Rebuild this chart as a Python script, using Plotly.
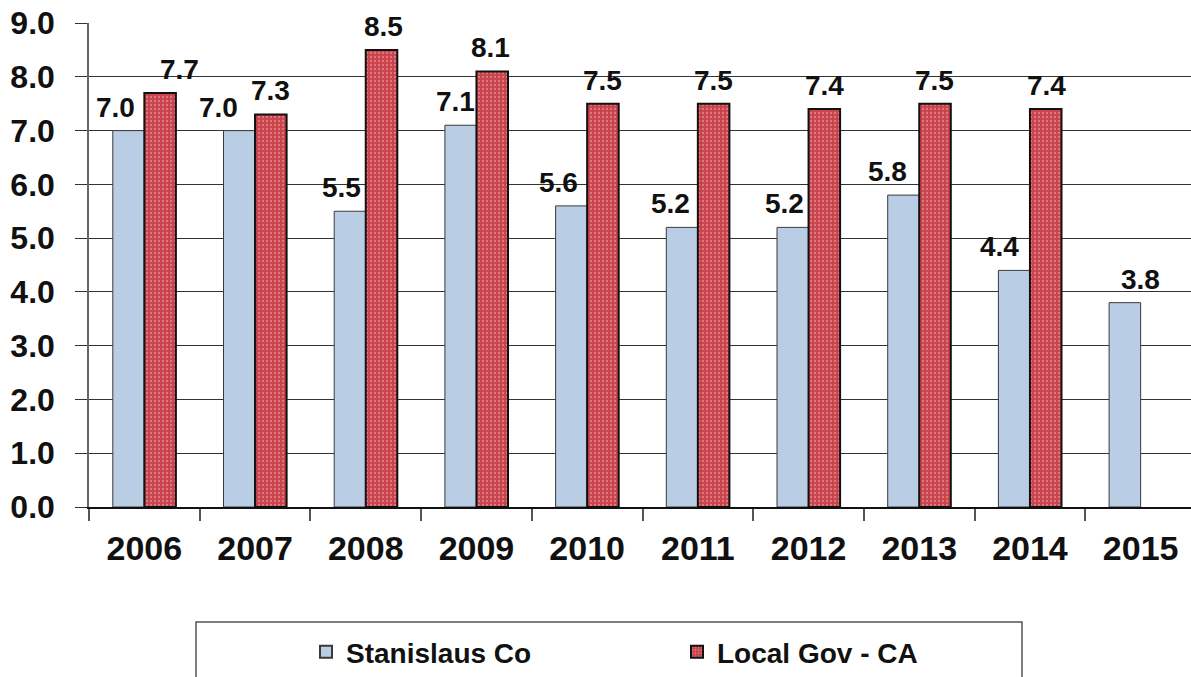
import plotly.graph_objects as go

# ---- data ----
years = ["2006", "2007", "2008", "2009", "2010", "2011", "2012", "2013", "2014", "2015"]
stanislaus = [7.0, 7.0, 5.5, 7.1, 5.6, 5.2, 5.2, 5.8, 4.4, 3.8]
local_gov = [7.7, 7.3, 8.5, 8.1, 7.5, 7.5, 7.4, 7.5, 7.4, None]
y_ticks = [0, 1, 2, 3, 4, 5, 6, 7, 8, 9]
series_names = ["Stanislaus Co", "Local Gov - CA"]

# ---- style ----
FONT = "Arial, Liberation Sans, sans-serif"
BLUE = "#B9CDE5"
RED = "#C9424C"
BARGAP = 0.43
half = (1 - BARGAP) / 4  # half of a single bar width, in category units

# manual label nudges (px), like the original chart
blue_dx = [-13, -21, -8, -5, -13, -12, -8, -16, -15, 0]
red_dx = [19, 0, 2, -2, 0, 0, 0, -1, 1, 0]

def bold(size):
    return dict(family=FONT, size=size, color="#111111", weight="bold")

fig = go.Figure()
fig.add_trace(go.Bar(
    x=years, y=stanislaus, name=series_names[0],
    marker=dict(color=BLUE, line=dict(color="#3a3a3a", width=1)),
))
fig.add_trace(go.Bar(
    x=years, y=local_gov, name=series_names[1],
    marker=dict(color=RED, line=dict(color="#111111", width=2),
                pattern=dict(shape=".", fgcolor="#F0B8B8", bgcolor=RED,
                             size=4, solidity=0.25)),
))

annotations = []
for i, v in enumerate(stanislaus):
    if v is None:
        continue
    xpos = i if local_gov[i] is None else i - half
    annotations.append(dict(x=xpos, y=v, xref="x", yref="y", text=f"{v:.1f}",
                            showarrow=False, yanchor="bottom", xanchor="center",
                            xshift=blue_dx[i], yshift=6, font=bold(28)))
for i, v in enumerate(local_gov):
    if v is None:
        continue
    annotations.append(dict(x=i + half, y=v, xref="x", yref="y", text=f"{v:.1f}",
                            showarrow=False, yanchor="bottom", xanchor="center",
                            xshift=red_dx[i], yshift=6, font=bold(28)))

# the page body margin is removed (see post_script), so lay out in page pixels
W, H = 1191, 677
ml, mr, mt, mb = 89, 0, 23, 170
pw, ph = W - ml - mr, H - mt - mb
def px_x(p):
    return (p - ml) / pw
def px_y(p):
    return (H - mb - p) / ph

fig.update_layout(
    width=W, height=H,
    margin=dict(l=ml, r=mr, t=mt, b=mb, autoexpand=False),
    paper_bgcolor="white", plot_bgcolor="white",
    barmode="group", bargap=BARGAP, bargroupgap=0,
    font=dict(family=FONT, color="#111111"),
    annotations=annotations,
    showlegend=True,
    legend=dict(orientation="h", x=px_x(306), y=px_y(652), xanchor="left", yanchor="middle",
                font=bold(28),
                bgcolor="rgba(0,0,0,0)", borderwidth=0,
                entrywidth=326, entrywidthmode="pixels",
                itemsizing="constant", traceorder="normal"),
    shapes=[dict(type="rect", xref="paper", yref="paper",
                 x0=px_x(196), x1=px_x(1022), y0=px_y(720), y1=px_y(622),
                 line=dict(color="#555555", width=1.5), fillcolor="rgba(0,0,0,0)",
                 layer="below")],
)

fig.update_xaxes(
    type="category", range=[-0.5, 9.5 - 5 / 110.7],
    showline=True, linecolor="#111111", linewidth=1.5,
    ticks="outside", tickson="boundaries", ticklen=12, tickcolor="#555555", tickwidth=1.5,
    tickfont=bold(34),
    ticklabelstandoff=10,
    showgrid=False, zeroline=False,
)
fig.update_yaxes(
    range=[0, 9.001], tickvals=y_ticks, ticktext=[f"{t:.1f}" for t in y_ticks],
    showline=True, linecolor="#666666", linewidth=1.5,
    ticks="outside", ticklen=12, tickcolor="#333333", tickwidth=1,
    tickfont=bold(32),
    ticklabelstandoff=14, ticklabeloverflow="allow",
    showgrid=True, gridcolor="#333333", gridwidth=1,
    zeroline=False,
)

fig.write_html("out.html",
               config={"displayModeBar": False},
               post_script="document.body.style.margin='0';document.body.style.overflow='hidden';")
